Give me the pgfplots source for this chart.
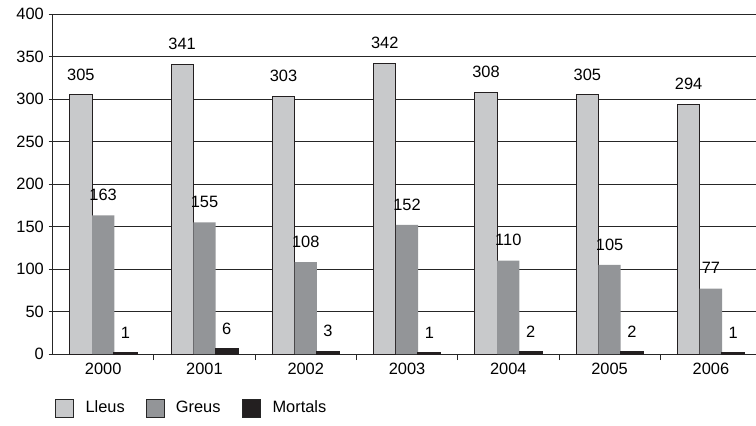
\documentclass[border=0pt]{standalone}
\usepackage{fontspec}
\setmainfont{Liberation Sans}
\usepackage{pgfplots}
\pgfplotsset{compat=1.18}
\definecolor{lleus}{HTML}{C8C9CB}
\definecolor{greus}{HTML}{939598}
\definecolor{mortals}{HTML}{231F20}
\begin{document}
\begin{tikzpicture}[font=\fontsize{12.3}{14}\selectfont]
\useasboundingbox (-39.4pt,-53.25pt) rectangle (527.6pt,265.5pt);
\begin{axis}[
    scale only axis, width=531.75pt, height=255pt,
    ybar, bar width=0.22,
    xmin=-0.5, xmax=6.5, ymin=0, ymax=400,
    xtick={0,...,6}, xticklabels={2000,2001,2002,2003,2004,2005,2006},
    minor xtick={0.5,1.5,...,5.5},
    ytick={0,50,...,400},
    ymajorgrids, grid style={black!85, line width=0.6pt},
    axis x line*=bottom, axis y line*=left,
    axis line style={-, black!85, line width=0.6pt},
    tick align=outside,
    major x tick style={draw=none},
    major tick length=3pt, minor tick length=4.5pt,
    every tick/.style={black!85, line width=0.6pt},
    /pgf/number format/assume math mode=true,
    nodes near coords,
    every node near coord/.append style={anchor=base, yshift=11pt, inner sep=0pt},
    legend style={at={(0,0)}, anchor=west, yshift=-40.5pt, xshift=2pt,
        draw=none, fill=none, inner sep=0pt, legend columns=3,
        /tikz/every even column/.append style={column sep=14pt}},
    legend image code/.code={
        \draw[#1, draw=black!85, line width=0.6pt] (0pt,-6.75pt) rectangle (13.5pt,6.75pt);
        \path (20pt,0pt);},
]
\addplot[fill=lleus, draw=mortals, line width=0.6pt, bar shift=-0.22] coordinates {
    (0,305) (1,341) (2,303) (3,342) (4,308) (5,305) (6,294)
};
\addplot[fill=greus, draw=none, bar shift=0] coordinates {
    (0,163) (1,155) (2,108) (3,152) (4,110) (5,105) (6,77)
};
\addplot[fill=mortals, draw=mortals, line width=1.4pt, bar shift=0.22] coordinates {
    (0,1) (1,6) (2,3) (3,1) (4,2) (5,2) (6,1)
};
\legend{Lleus, Greus, Mortals}
\end{axis}
\end{tikzpicture}
\end{document}
